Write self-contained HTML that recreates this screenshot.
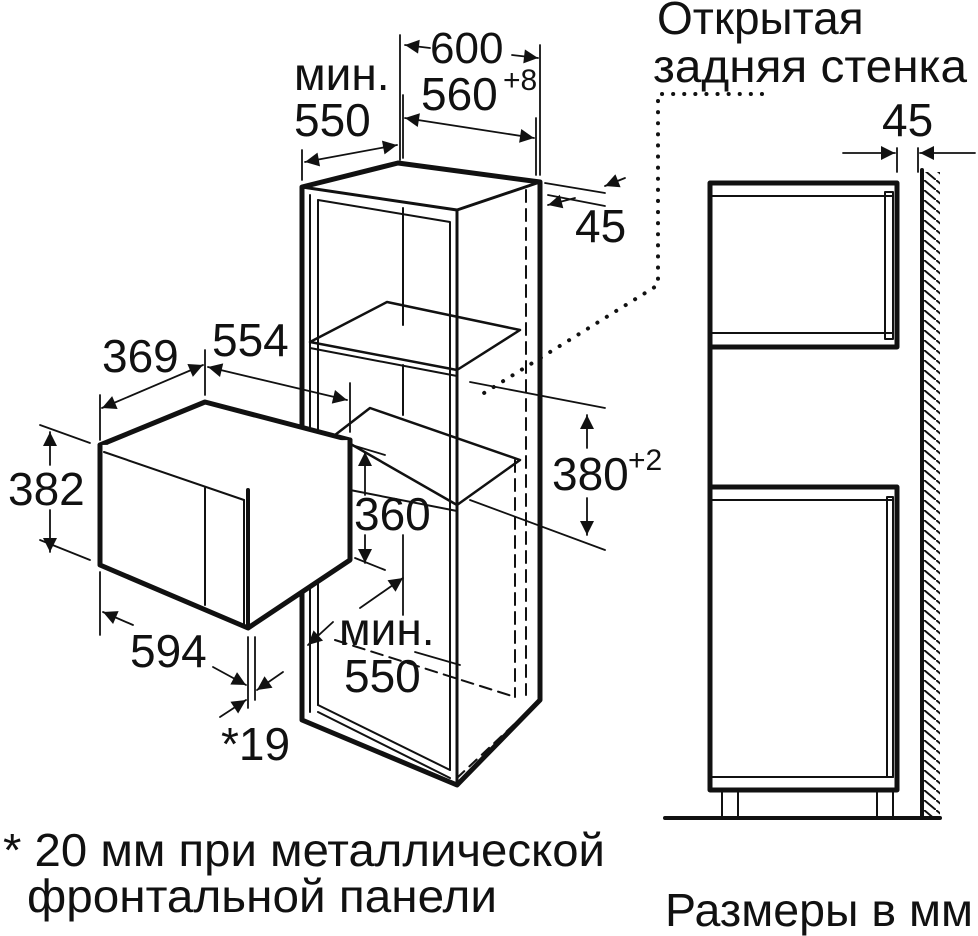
<!DOCTYPE html>
<html><head><meta charset="utf-8"><style>
html,body{margin:0;padding:0;background:#fff}
svg{display:block}
text{font-family:"Liberation Sans",sans-serif;fill:#111}
</style></head><body>
<svg width="978" height="936" viewBox="0 0 978 936" xmlns="http://www.w3.org/2000/svg">
<defs>
<marker id="b" viewBox="0 0 10 10" refX="10" refY="5" markerWidth="18" markerHeight="14" orient="auto-start-reverse" markerUnits="userSpaceOnUse"><path d="M0,0 L10,5 L0,10 z" fill="#111"/></marker>
<pattern id="h" width="12" height="10" patternUnits="userSpaceOnUse"><path d="M0,0 L12,10" stroke="#111" stroke-width="2"/></pattern>
</defs>
<g stroke="#111" fill="none" stroke-linecap="round" stroke-linejoin="round">
<path d="M302,187 L302,720 L457,785 L540,700 L540,182 L398,163 Z" stroke-width="5"/>
<path d="M302,187 L457,210 L540,182" stroke-width="3"/>
<line x1="457" y1="210" x2="457" y2="785" stroke-width="3"/>
<line x1="310" y1="195" x2="310" y2="712" stroke-width="2"/>
<line x1="318" y1="200" x2="318" y2="705" stroke-width="2"/>
<path d="M318,200 L450,222 L450,770" stroke-width="2"/>
<line x1="403" y1="208" x2="403" y2="325" stroke-width="2"/>
<line x1="403" y1="365" x2="403" y2="415" stroke-width="2"/>
<line x1="526" y1="190" x2="526" y2="695" stroke-width="2" stroke-dasharray="12,7"/>
<path d="M310,342 L387,302 L520,330 L457,370 Z" stroke-width="2.5"/>
<line x1="310" y1="348" x2="457" y2="376" stroke-width="2"/>
<path d="M335,435 L370,408 L520,460 L457,505 Z" stroke-width="2.5"/>
<line x1="350" y1="490" x2="457" y2="511" stroke-width="2"/>
<path d="M335,640 L515,697 M515,460 L515,697" stroke-width="2" stroke-dasharray="12,7"/>
<path d="M318,705 L450,770 M318,712 L450,778" stroke-width="2"/>
<path d="M457,778 L540,700" stroke-width="2" stroke-dasharray="10,7"/>
<path d="M100,445 L205,402 L350,440 L248,490 Z" stroke-width="5" fill="#fff"/>
<path d="M100,445 L100,565 L248,628 L350,560 L350,440" stroke-width="5" fill="#fff"/>
<line x1="248" y1="490" x2="248" y2="628" stroke-width="4"/>
<line x1="104" y1="452" x2="244" y2="500" stroke-width="2"/>
<line x1="244" y1="500" x2="244" y2="625" stroke-width="2"/>
<line x1="205" y1="488" x2="205" y2="605" stroke-width="2"/>
<g stroke-width="1.8">
<line x1="400" y1="35" x2="400" y2="160"/><line x1="540" y1="45" x2="540" y2="175"/>
<line x1="403" y1="95" x2="403" y2="158"/><line x1="536" y1="118" x2="536" y2="175"/>
<line x1="302" y1="150" x2="302" y2="180"/>
<line x1="405" y1="45" x2="430" y2="48" marker-start="url(#b)"/><line x1="512" y1="55" x2="538" y2="58" marker-end="url(#b)"/>
<line x1="405" y1="118" x2="534" y2="138" marker-start="url(#b)" marker-end="url(#b)"/>
<line x1="305" y1="162" x2="397" y2="145" marker-start="url(#b)" marker-end="url(#b)"/>
<line x1="545" y1="183" x2="605" y2="193"/><line x1="548" y1="195" x2="605" y2="206" />
<line x1="625" y1="178" x2="605" y2="186" marker-end="url(#b)"/><line x1="548" y1="205" x2="575" y2="198" marker-start="url(#b)"/>
<line x1="470" y1="382" x2="605" y2="408"/><line x1="470" y1="500" x2="605" y2="550"/>
<line x1="587" y1="415" x2="587" y2="448" marker-start="url(#b)"/><line x1="587" y1="498" x2="587" y2="535" marker-end="url(#b)"/>
<line x1="355" y1="446" x2="385" y2="455"/><line x1="355" y1="558" x2="385" y2="570"/>
<line x1="365" y1="452" x2="365" y2="495" marker-start="url(#b)"/><line x1="365" y1="535" x2="365" y2="563" marker-end="url(#b)"/>
<line x1="403" y1="535" x2="403" y2="615"/>
<line x1="360" y1="608" x2="403" y2="578" marker-end="url(#b)"/>
<line x1="333" y1="622" x2="308" y2="645" marker-end="url(#b)"/>
<line x1="415" y1="652" x2="460" y2="665"/>
<line x1="100" y1="395" x2="100" y2="440"/><line x1="205" y1="350" x2="205" y2="395"/>
<line x1="350" y1="383" x2="350" y2="432"/>
<line x1="102" y1="408" x2="203" y2="365" marker-start="url(#b)" marker-end="url(#b)"/>
<line x1="208" y1="367" x2="347" y2="400" marker-start="url(#b)" marker-end="url(#b)"/>
<line x1="40" y1="425" x2="90" y2="443"/><line x1="40" y1="540" x2="90" y2="560"/>
<line x1="50" y1="432" x2="50" y2="465" marker-start="url(#b)"/><line x1="50" y1="510" x2="50" y2="552" marker-end="url(#b)"/>
<line x1="100" y1="572" x2="100" y2="635"/>
<line x1="248" y1="637" x2="248" y2="708"/><line x1="255" y1="637" x2="255" y2="700"/>
<line x1="103" y1="612" x2="133" y2="625" marker-start="url(#b)"/>
<line x1="213" y1="667" x2="246" y2="685" marker-end="url(#b)"/>
<line x1="283" y1="672" x2="257" y2="690" marker-end="url(#b)"/>
<line x1="220" y1="717" x2="246" y2="700" marker-end="url(#b)"/>
<line x1="897" y1="148" x2="897" y2="172"/><line x1="918" y1="148" x2="918" y2="172"/>
<line x1="843" y1="153" x2="895" y2="153" marker-end="url(#b)"/>
<line x1="975" y1="153" x2="920" y2="153" marker-end="url(#b)"/>
</g>
<path d="M762,94 L658,94 L658,285 L476,398" stroke-width="4" stroke-dasharray="0.1,11"/>
<rect x="710" y="183" width="187" height="164" stroke-width="5"/>
<line x1="712" y1="196" x2="893" y2="196" stroke-width="2"/>
<line x1="712" y1="333" x2="893" y2="333" stroke-width="2"/>
<rect x="885" y="192" width="8" height="147" stroke-width="2"/>
<rect x="710" y="487" width="187" height="303" stroke-width="5"/>
<line x1="712" y1="500" x2="893" y2="500" stroke-width="2"/>
<line x1="712" y1="777" x2="893" y2="777" stroke-width="2"/>
<rect x="887" y="497" width="6" height="280" stroke-width="2"/>
<line x1="710" y1="347" x2="710" y2="487" stroke-width="5"/>
<path d="M722,790 V818 M738,790 V818 M877,790 V818 M893,790 V818" stroke-width="2"/>
<line x1="665" y1="818" x2="940" y2="818" stroke-width="4"/>
<line x1="922" y1="170" x2="922" y2="818" stroke-width="4"/>
</g>
<rect x="924" y="172" width="16" height="644" fill="url(#h)"/>
<g font-size="46">
<text x="657" y="34">Открытая</text>
<text x="653" y="82" textLength="314" lengthAdjust="spacingAndGlyphs">задняя стенка</text>
<text x="430" y="63" font-size="44">600</text>
<text x="421" y="110">560</text><text x="503" y="90" font-size="30">+8</text>
<text x="294" y="90">мин.</text>
<text x="294" y="136">550</text>
<text x="575" y="242">45</text>
<text x="882" y="136">45</text>
<text x="102" y="372">369</text>
<text x="212" y="356">554</text>
<text x="8" y="505">382</text>
<text x="552" y="490">380</text><text x="628" y="470" font-size="30">+2</text>
<text x="354" y="530">360</text>
<text x="339" y="645">мин.</text>
<text x="344" y="692">550</text>
<text x="130" y="667">594</text>
<text x="221" y="760">*19</text>
<text x="3" y="866" textLength="602" lengthAdjust="spacingAndGlyphs">* 20 мм при металлической</text>
<text x="27" y="912" textLength="470" lengthAdjust="spacingAndGlyphs">фронтальной панели</text>
<text x="665" y="926" textLength="308" lengthAdjust="spacingAndGlyphs">Размеры в мм</text>
</g>
</svg>
</body></html>
